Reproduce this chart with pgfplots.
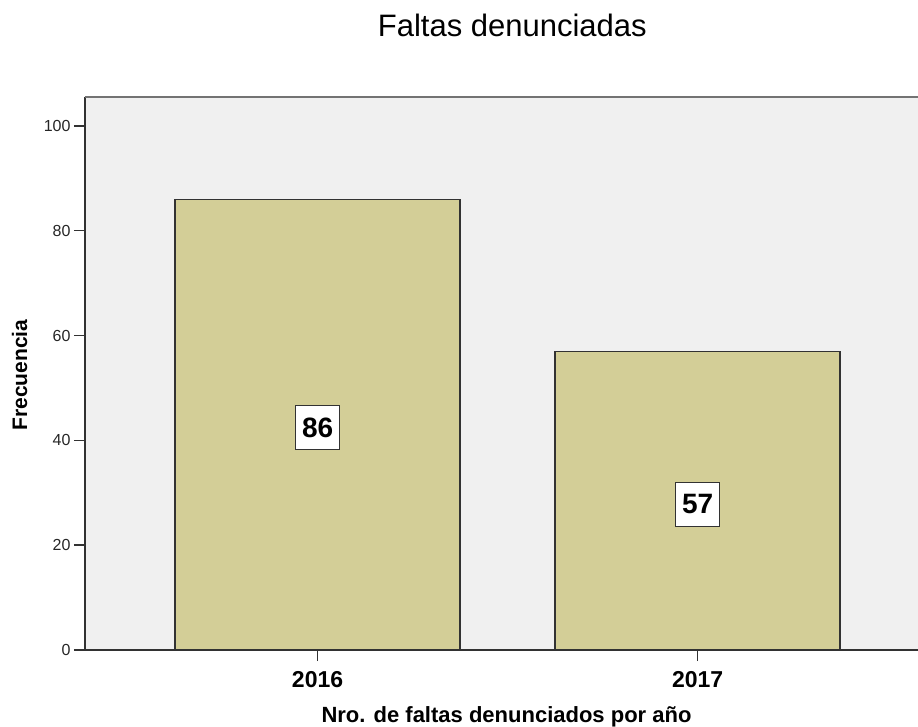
\documentclass[border=0pt]{standalone}
\usepackage{pgfplots}
\pgfplotsset{compat=1.18}
\usepackage{fontspec}
\setmainfont{Liberation Sans}
\definecolor{barfill}{RGB}{211,206,151}
\definecolor{bgfill}{RGB}{240,240,240}
\definecolor{frame}{RGB}{50,50,50}
\begin{document}
\begin{tikzpicture}
\useasboundingbox (-85pt,-76pt) rectangle (833pt,650pt);
\begin{axis}[
  at={(0,0)}, anchor=south west,
  scale only axis, width=833pt, height=553pt,
  xmin=-0.612, xmax=1.58, ymin=0, ymax=105.5,
  axis x line*=bottom, axis y line*=left,
  axis line style={frame, line width=1.5pt, -},
  axis background/.style={fill=bgfill},
  xtick={0,1}, xticklabels={2016,2017},
  xmajorticks=true, ymajorticks=true,
  ytick={0,20,40,60,80,100},
  tick align=outside, major tick length=11pt,
  xtick style={draw=frame, line width=1.5pt},
  ytick style={draw=frame, line width=1.5pt},
  /pgf/number format/assume math mode=true,
  yticklabel style={font=\fontsize{16}{16}\selectfont, text=black!85},
  xticklabel style={font=\fontsize{23}{23}\selectfont\bfseries, anchor=base, yshift=-26pt},
  title={Faltas denunciadas},
  title style={at={(axis description cs:0.513,1)}, anchor=base, yshift=54pt, font=\fontsize{31}{36}\selectfont},
  xlabel={Nro. de faltas denunciados por año},
  every axis x label/.style={at={(axis description cs:0.506,0)}, anchor=base, yshift=-72pt, font=\fontsize{22}{22}\selectfont\bfseries},
  ylabel={Frecuencia},
  every axis y label/.style={at={(axis description cs:-0.0696,0.497)}, rotate=90, anchor=base, font=\fontsize{21}{21}\selectfont\bfseries},
  clip=false,
]
\addplot[ybar, bar width=0.75, fill=barfill, draw=frame, line width=1.3pt] coordinates {(0,86) (1,57)};
\addplot[draw=none, mark=none, nodes near coords, point meta=explicit symbolic,
  every node near coord/.style={anchor=center, fill=white, draw=frame, line width=1.3pt, minimum size=44pt, inner sep=0pt, font=\fontsize{28}{28}\selectfont\bfseries, text=black}]
  coordinates {(0,42.4) [86] (1,27.8) [57]};
\draw[black!55, line width=1.5pt] (rel axis cs:0,1) -- (rel axis cs:1,1);
\end{axis}
\end{tikzpicture}
\end{document}
